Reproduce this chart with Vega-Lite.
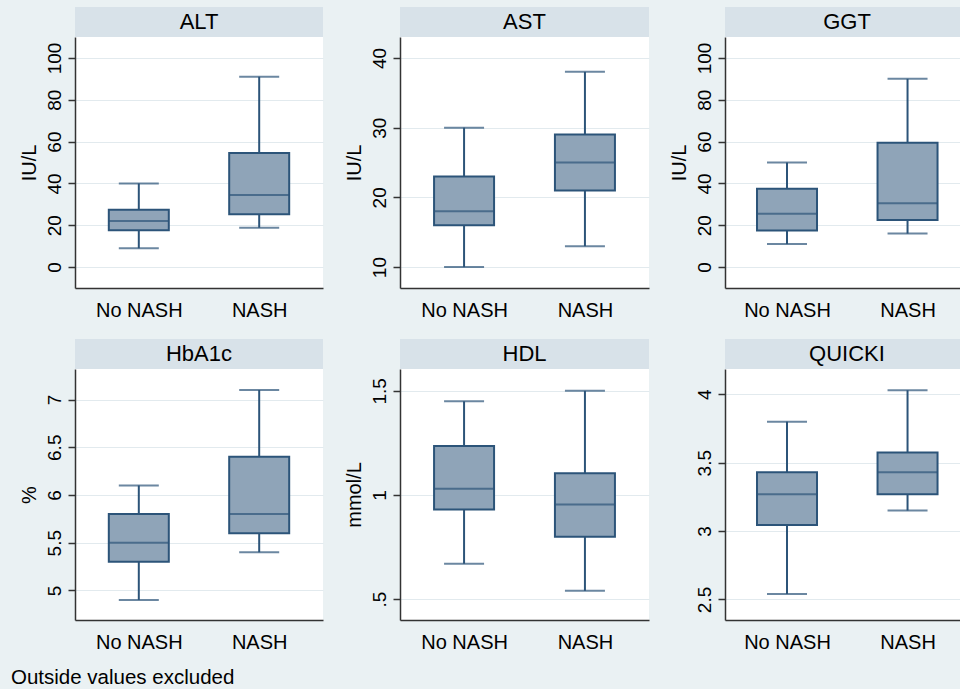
{
  "$schema": "https://vega.github.io/schema/vega-lite/v6.json",
  "background": "#eaf1f3",
  "padding": {"left": 10, "top": 7, "right": 0, "bottom": 0},
  "autosize": {"type": "pad"},
  "datasets": {
    "stats": [
      {"panel": "ALT", "group": "No NASH", "lo": 9, "q1": 17.6, "med": 22, "q3": 27.4, "hi": 40},
      {"panel": "ALT", "group": "NASH", "lo": 18.8, "q1": 25.3, "med": 34.5, "q3": 54.5, "hi": 91},
      {"panel": "AST", "group": "No NASH", "lo": 10, "q1": 16, "med": 18, "q3": 23, "hi": 30},
      {"panel": "AST", "group": "NASH", "lo": 13, "q1": 21, "med": 25, "q3": 29, "hi": 38},
      {"panel": "GGT", "group": "No NASH", "lo": 11, "q1": 17.5, "med": 25.5, "q3": 37.5, "hi": 50},
      {"panel": "GGT", "group": "NASH", "lo": 16, "q1": 22.5, "med": 30.5, "q3": 59.5, "hi": 90},
      {"panel": "HbA1c", "group": "No NASH", "lo": 4.9, "q1": 5.3, "med": 5.5, "q3": 5.8, "hi": 6.1},
      {"panel": "HbA1c", "group": "NASH", "lo": 5.4, "q1": 5.6, "med": 5.8, "q3": 6.4, "hi": 7.1},
      {"panel": "HDL", "group": "No NASH", "lo": 0.67, "q1": 0.93, "med": 1.03, "q3": 1.235, "hi": 1.45},
      {"panel": "HDL", "group": "NASH", "lo": 0.54, "q1": 0.8, "med": 0.955, "q3": 1.105, "hi": 1.5},
      {"panel": "QUICKI", "group": "No NASH", "lo": 2.54, "q1": 3.045, "med": 3.27, "q3": 3.43, "hi": 3.8},
      {"panel": "QUICKI", "group": "NASH", "lo": 3.15, "q1": 3.27, "med": 3.43, "q3": 3.575, "hi": 4.03}
    ],
    "panels": [
      {"panel": "ALT"}, {"panel": "AST"}, {"panel": "GGT"},
      {"panel": "HbA1c"}, {"panel": "HDL"}, {"panel": "QUICKI"}
    ]
  },
  "title": {
    "text": "Outside values excluded",
    "orient": "bottom",
    "anchor": "start",
    "frame": "bounds",
    "offset": 16,
    "dx": -8,
    "font": "Liberation Sans",
    "fontSize": 20.5,
    "fontWeight": "normal",
    "color": "#000000"
  },
  "columns": 3,
  "align": "each",
  "spacing": {"row": 19, "column": 20},
  "concat": [
    {"vconcat": [
      {"data": {"name": "panels"}, "transform": [{"filter": "datum.panel == 'ALT'"}], "width": 248, "height": 30, "view": {"fill": "#d8e2e9", "stroke": null},
       "mark": {"type": "text", "font": "Liberation Sans", "fontSize": 22, "color": "#000000"}, "encoding": {"text": {"field": "panel"}}},
      {"data": {"name": "stats"}, "transform": [{"filter": "datum.panel == 'ALT'"}], "width": 248, "height": 251, "view": {"fill": "white", "stroke": null},
       "encoding": {"x": {"field": "group", "type": "nominal", "sort": ["No NASH", "NASH"], "scale": {"type": "point", "padding": 0.53}, "axis": {"title": null}}},
       "layer": [
         {"mark": {"type": "rule", "color": "#2c5479", "strokeWidth": 2}, "encoding": {"y": {"field": "lo", "type": "quantitative", "title": "IU/L", "scale": {"domain": [-10, 110], "nice": false, "zero": false}, "axis": {"values": [0, 20, 40, 60, 80, 100]}}, "y2": {"field": "hi"}}},
         {"mark": {"type": "bar", "size": 60, "fill": "#8fa4b8", "stroke": "#2c5479", "strokeWidth": 2}, "encoding": {"y": {"field": "q1", "type": "quantitative", "title": "IU/L"}, "y2": {"field": "q3"}}},
         {"mark": {"type": "tick", "size": 60, "thickness": 2, "color": "#2c5479"}, "encoding": {"y": {"field": "med", "type": "quantitative", "title": "IU/L"}}},
         {"mark": {"type": "tick", "size": 40, "thickness": 2, "color": "#2c5479"}, "encoding": {"y": {"field": "lo", "type": "quantitative", "title": "IU/L"}}},
         {"mark": {"type": "tick", "size": 40, "thickness": 2, "color": "#2c5479"}, "encoding": {"y": {"field": "hi", "type": "quantitative", "title": "IU/L"}}}
       ]}
    ], "spacing": 0, "bounds": "flush"},
    {"vconcat": [
      {"data": {"name": "panels"}, "transform": [{"filter": "datum.panel == 'AST'"}], "width": 249, "height": 30, "view": {"fill": "#d8e2e9", "stroke": null},
       "mark": {"type": "text", "font": "Liberation Sans", "fontSize": 22, "color": "#000000"}, "encoding": {"text": {"field": "panel"}}},
      {"data": {"name": "stats"}, "transform": [{"filter": "datum.panel == 'AST'"}], "width": 249, "height": 251, "view": {"fill": "white", "stroke": null},
       "encoding": {"x": {"field": "group", "type": "nominal", "sort": ["No NASH", "NASH"], "scale": {"type": "point", "padding": 0.53}, "axis": {"title": null}}},
       "layer": [
         {"mark": {"type": "rule", "color": "#2c5479", "strokeWidth": 2}, "encoding": {"y": {"field": "lo", "type": "quantitative", "title": "IU/L", "scale": {"domain": [7, 43], "nice": false, "zero": false}, "axis": {"values": [10, 20, 30, 40]}}, "y2": {"field": "hi"}}},
         {"mark": {"type": "bar", "size": 60, "fill": "#8fa4b8", "stroke": "#2c5479", "strokeWidth": 2}, "encoding": {"y": {"field": "q1", "type": "quantitative", "title": "IU/L"}, "y2": {"field": "q3"}}},
         {"mark": {"type": "tick", "size": 60, "thickness": 2, "color": "#2c5479"}, "encoding": {"y": {"field": "med", "type": "quantitative", "title": "IU/L"}}},
         {"mark": {"type": "tick", "size": 40, "thickness": 2, "color": "#2c5479"}, "encoding": {"y": {"field": "lo", "type": "quantitative", "title": "IU/L"}}},
         {"mark": {"type": "tick", "size": 40, "thickness": 2, "color": "#2c5479"}, "encoding": {"y": {"field": "hi", "type": "quantitative", "title": "IU/L"}}}
       ]}
    ], "spacing": 0, "bounds": "flush"},
    {"vconcat": [
      {"data": {"name": "panels"}, "transform": [{"filter": "datum.panel == 'GGT'"}], "width": 236, "height": 30, "view": {"fill": "#d8e2e9", "stroke": null},
       "mark": {"type": "text", "font": "Liberation Sans", "fontSize": 22, "color": "#000000", "dx": 4}, "encoding": {"text": {"field": "panel"}}},
      {"data": {"name": "stats"}, "transform": [{"filter": "datum.panel == 'GGT'"}], "width": 236, "height": 251, "view": {"fill": "white", "stroke": null},
       "encoding": {"x": {"field": "group", "type": "nominal", "sort": ["No NASH", "NASH"], "scale": {"type": "point", "padding": 0.479, "align": 0.537}, "axis": {"title": null}}},
       "layer": [
         {"mark": {"type": "rule", "color": "#2c5479", "strokeWidth": 2}, "encoding": {"y": {"field": "lo", "type": "quantitative", "title": "IU/L", "scale": {"domain": [-10, 110], "nice": false, "zero": false}, "axis": {"values": [0, 20, 40, 60, 80, 100]}}, "y2": {"field": "hi"}}},
         {"mark": {"type": "bar", "size": 60, "fill": "#8fa4b8", "stroke": "#2c5479", "strokeWidth": 2}, "encoding": {"y": {"field": "q1", "type": "quantitative", "title": "IU/L"}, "y2": {"field": "q3"}}},
         {"mark": {"type": "tick", "size": 60, "thickness": 2, "color": "#2c5479"}, "encoding": {"y": {"field": "med", "type": "quantitative", "title": "IU/L"}}},
         {"mark": {"type": "tick", "size": 40, "thickness": 2, "color": "#2c5479"}, "encoding": {"y": {"field": "lo", "type": "quantitative", "title": "IU/L"}}},
         {"mark": {"type": "tick", "size": 40, "thickness": 2, "color": "#2c5479"}, "encoding": {"y": {"field": "hi", "type": "quantitative", "title": "IU/L"}}}
       ]}
    ], "spacing": 0, "bounds": "flush"},
    {"vconcat": [
      {"data": {"name": "panels"}, "transform": [{"filter": "datum.panel == 'HbA1c'"}], "width": 248, "height": 30, "view": {"fill": "#d8e2e9", "stroke": null},
       "mark": {"type": "text", "font": "Liberation Sans", "fontSize": 22, "color": "#000000"}, "encoding": {"text": {"field": "panel"}}},
      {"data": {"name": "stats"}, "transform": [{"filter": "datum.panel == 'HbA1c'"}], "width": 248, "height": 251, "view": {"fill": "white", "stroke": null},
       "encoding": {"x": {"field": "group", "type": "nominal", "sort": ["No NASH", "NASH"], "scale": {"type": "point", "padding": 0.53}, "axis": {"title": null}}},
       "layer": [
         {"mark": {"type": "rule", "color": "#2c5479", "strokeWidth": 2}, "encoding": {"y": {"field": "lo", "type": "quantitative", "title": "%", "scale": {"domain": [4.69, 7.32], "nice": false, "zero": false}, "axis": {"values": [5, 5.5, 6, 6.5, 7], "format": "~g"}}, "y2": {"field": "hi"}}},
         {"mark": {"type": "bar", "size": 60, "fill": "#8fa4b8", "stroke": "#2c5479", "strokeWidth": 2}, "encoding": {"y": {"field": "q1", "type": "quantitative", "title": "%"}, "y2": {"field": "q3"}}},
         {"mark": {"type": "tick", "size": 60, "thickness": 2, "color": "#2c5479"}, "encoding": {"y": {"field": "med", "type": "quantitative", "title": "%"}}},
         {"mark": {"type": "tick", "size": 40, "thickness": 2, "color": "#2c5479"}, "encoding": {"y": {"field": "lo", "type": "quantitative", "title": "%"}}},
         {"mark": {"type": "tick", "size": 40, "thickness": 2, "color": "#2c5479"}, "encoding": {"y": {"field": "hi", "type": "quantitative", "title": "%"}}}
       ]}
    ], "spacing": 0, "bounds": "flush"},
    {"vconcat": [
      {"data": {"name": "panels"}, "transform": [{"filter": "datum.panel == 'HDL'"}], "width": 249, "height": 30, "view": {"fill": "#d8e2e9", "stroke": null},
       "mark": {"type": "text", "font": "Liberation Sans", "fontSize": 22, "color": "#000000"}, "encoding": {"text": {"field": "panel"}}},
      {"data": {"name": "stats"}, "transform": [{"filter": "datum.panel == 'HDL'"}], "width": 249, "height": 251, "view": {"fill": "white", "stroke": null},
       "encoding": {"x": {"field": "group", "type": "nominal", "sort": ["No NASH", "NASH"], "scale": {"type": "point", "padding": 0.53}, "axis": {"title": null}}},
       "layer": [
         {"mark": {"type": "rule", "color": "#2c5479", "strokeWidth": 2}, "encoding": {"y": {"field": "lo", "type": "quantitative", "title": "mmol/L", "scale": {"domain": [0.4, 1.605], "nice": false, "zero": false}, "axis": {"values": [0.5, 1, 1.5], "format": "~g", "labelExpr": "datum.value == 0.5 ? '.5' : datum.label"}}, "y2": {"field": "hi"}}},
         {"mark": {"type": "bar", "size": 60, "fill": "#8fa4b8", "stroke": "#2c5479", "strokeWidth": 2}, "encoding": {"y": {"field": "q1", "type": "quantitative", "title": "mmol/L"}, "y2": {"field": "q3"}}},
         {"mark": {"type": "tick", "size": 60, "thickness": 2, "color": "#2c5479"}, "encoding": {"y": {"field": "med", "type": "quantitative", "title": "mmol/L"}}},
         {"mark": {"type": "tick", "size": 40, "thickness": 2, "color": "#2c5479"}, "encoding": {"y": {"field": "lo", "type": "quantitative", "title": "mmol/L"}}},
         {"mark": {"type": "tick", "size": 40, "thickness": 2, "color": "#2c5479"}, "encoding": {"y": {"field": "hi", "type": "quantitative", "title": "mmol/L"}}}
       ]}
    ], "spacing": 0, "bounds": "flush"},
    {"vconcat": [
      {"data": {"name": "panels"}, "transform": [{"filter": "datum.panel == 'QUICKI'"}], "width": 236, "height": 30, "view": {"fill": "#d8e2e9", "stroke": null},
       "mark": {"type": "text", "font": "Liberation Sans", "fontSize": 22, "color": "#000000", "dx": 4}, "encoding": {"text": {"field": "panel"}}},
      {"data": {"name": "stats"}, "transform": [{"filter": "datum.panel == 'QUICKI'"}], "width": 236, "height": 251, "view": {"fill": "white", "stroke": null},
       "encoding": {"x": {"field": "group", "type": "nominal", "sort": ["No NASH", "NASH"], "scale": {"type": "point", "padding": 0.479, "align": 0.537}, "axis": {"title": null}}},
       "layer": [
         {"mark": {"type": "rule", "color": "#2c5479", "strokeWidth": 2}, "encoding": {"y": {"field": "lo", "type": "quantitative", "title": " ", "scale": {"domain": [2.35, 4.185], "nice": false, "zero": false}, "axis": {"values": [2.5, 3, 3.5, 4], "format": "~g"}}, "y2": {"field": "hi"}}},
         {"mark": {"type": "bar", "size": 60, "fill": "#8fa4b8", "stroke": "#2c5479", "strokeWidth": 2}, "encoding": {"y": {"field": "q1", "type": "quantitative", "title": " "}, "y2": {"field": "q3"}}},
         {"mark": {"type": "tick", "size": 60, "thickness": 2, "color": "#2c5479"}, "encoding": {"y": {"field": "med", "type": "quantitative", "title": " "}}},
         {"mark": {"type": "tick", "size": 40, "thickness": 2, "color": "#2c5479"}, "encoding": {"y": {"field": "lo", "type": "quantitative", "title": " "}}},
         {"mark": {"type": "tick", "size": 40, "thickness": 2, "color": "#2c5479"}, "encoding": {"y": {"field": "hi", "type": "quantitative", "title": " "}}}
       ]}
    ], "spacing": 0, "bounds": "flush"}
  ],
  "config": {
    "font": "Liberation Sans",
    "view": {"stroke": null},
    "axis": {
      "labelFont": "Liberation Sans",
      "titleFont": "Liberation Sans",
      "labelColor": "#000000",
      "titleColor": "#000000",
      "titleFontWeight": "normal",
      "domainColor": "#333333",
      "domainWidth": 1.5,
      "tickColor": "#333333",
      "tickWidth": 1.5,
      "labelOverlap": false
    },
    "axisY": {
      "labelAngle": 270,
      "labelAlign": "center",
      "labelBaseline": "bottom",
      "labelFontSize": 19,
      "titleFontSize": 20,
      "tickSize": 7,
      "labelPadding": 4,
      "titlePadding": 6,
      "grid": true,
      "gridColor": "#e2eaee",
      "gridWidth": 1
    },
    "axisX": {
      "labelFontSize": 20,
      "labelAngle": 0,
      "ticks": false,
      "tickSize": 0,
      "labelPadding": 12,
      "grid": false
    }
  }
}
